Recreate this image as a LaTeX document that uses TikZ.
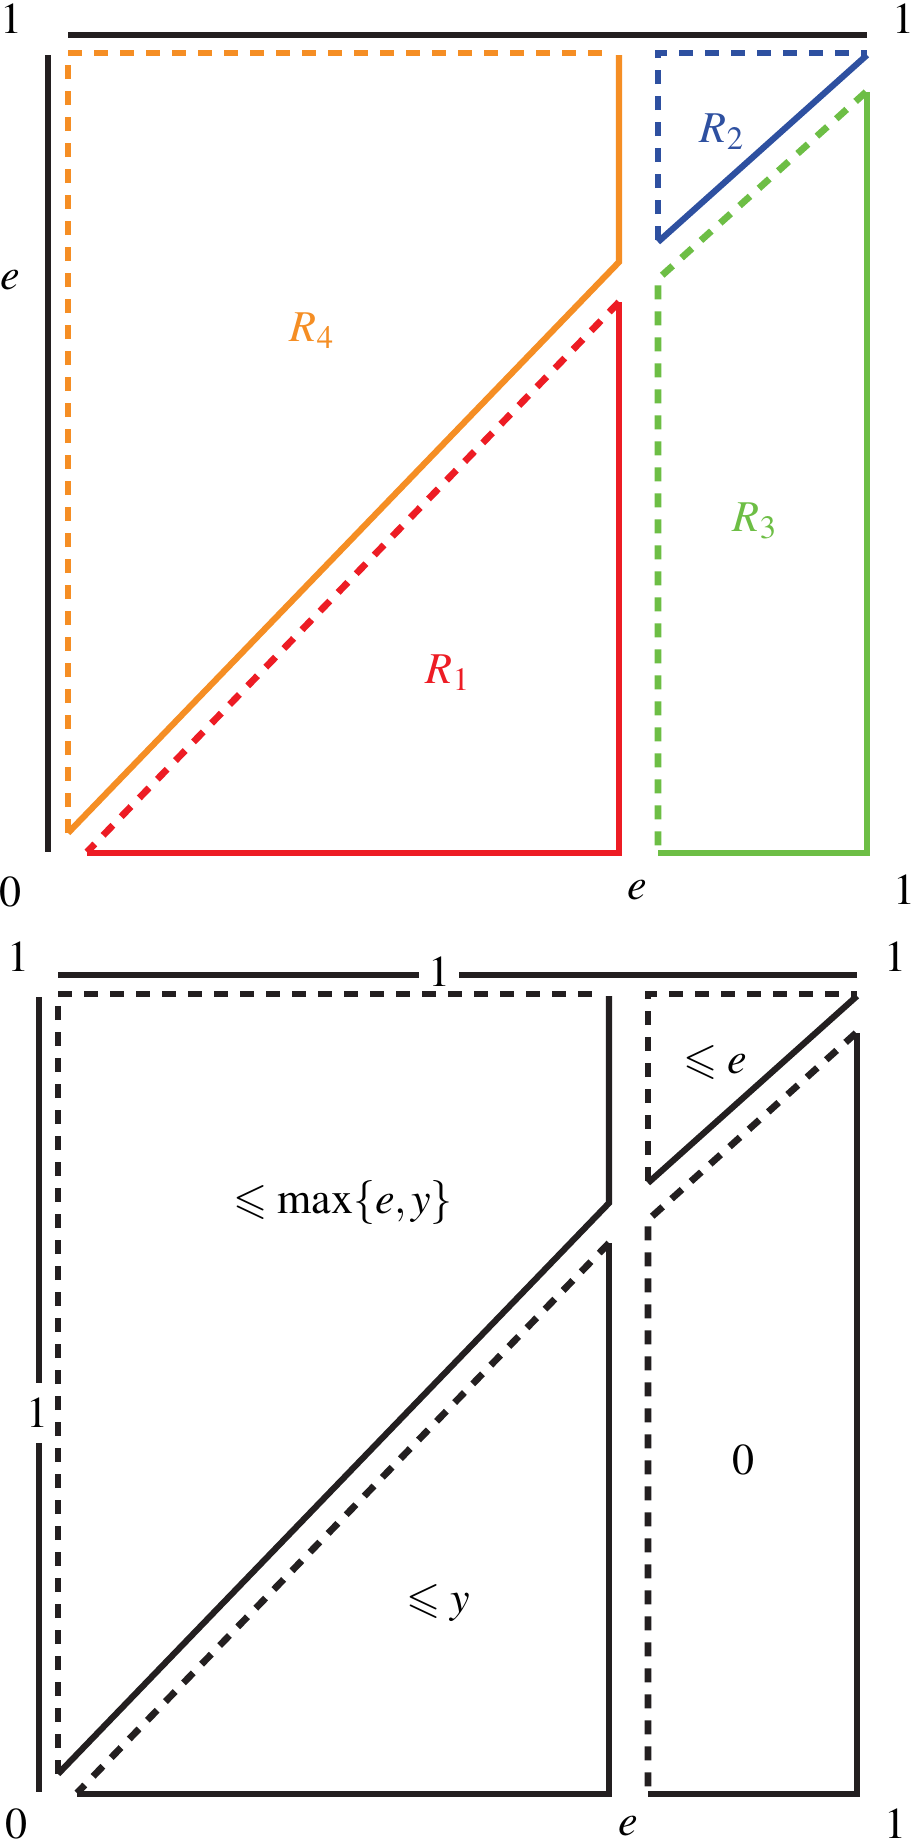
\documentclass[tikz,border=0pt]{standalone}
\usepackage{amssymb}
\usepackage{mathptmx}
\definecolor{corange}{RGB}{245,142,36}
\definecolor{cred}{RGB}{237,28,36}
\definecolor{cblue}{RGB}{46,80,160}
\definecolor{cgreen}{RGB}{109,190,69}
\definecolor{cblack}{RGB}{35,31,32}
\tikzset{
  edgeline/.style={line width=3.1pt},
  dshline/.style={line width=3.4pt, dash pattern=on 7pt off 6pt},
  axisline/.style={line width=3.4pt, cblack},
  lbl/.style={inner sep=0pt, font=\fontsize{22}{26}\selectfont},
}
\newcommand\mypanel[4]{%
  \draw[dshline,#1] (68,833)--(68,53)--(610,53);
  \draw[edgeline,#1] (619,55)--(619,262)--(68,833);
  \draw[dshline,#2] (619,302)--(87,852);
  \draw[edgeline,#2] (87,853)--(619,853)--(619,302);
  \draw[dshline,#3] (658,240)--(658,53)--(867,53);
  \draw[edgeline,#3] (867,55)--(658,242);
  \draw[dshline,#4] (866,92)--(658,279)--(658,852);
  \draw[edgeline,#4] (658,853)--(867,853)--(867,92);
}
\begin{document}
\begin{tikzpicture}[x=0.5pt,y=-0.5pt]
\useasboundingbox[fill=white] (0,0) rectangle (912,1848);
% ---------- panel 1 ----------
\draw[axisline] (68,35)--(867,35);
\draw[axisline] (48,55)--(48,852);
\mypanel{corange}{cred}{cblue}{cgreen}
\node[lbl] (t1) at (12,19) {$1$};
\node[lbl] (t2) at (903,19) {$1$};
\node[lbl] (te) at (10,280) {$e$};
\node[lbl] (b0) at (10,892) {$0$};
\node[lbl] (be) at (637,890) {$e$};
\node[lbl] (b1) at (904,890) {$1$};
\node[lbl,text=corange] (r4) at (312,331) {$R_4$};
\node[lbl,text=cred] (r1) at (448,673) {$R_1$};
\node[lbl,text=cblue] (r2) at (722,132) {$R_2$};
\node[lbl,text=cgreen] (r3) at (755,521) {$R_3$};
% ---------- panel 2 ----------
\draw[axisline] (58,975)--(419,975);
\draw[axisline] (459,975)--(857,975);
\draw[axisline] (39,997)--(39,1383);
\draw[axisline] (39,1443)--(39,1792);
\begin{scope}[shift={(-10,941)}]
\mypanel{cblack}{cblack}{cblack}{cblack}
\end{scope}
\node[lbl] (u1) at (18,957) {$1$};
\node[lbl] (um) at (439,972) {$1$};
\node[lbl] (u2) at (895,957) {$1$};
\node[lbl] (ul) at (37,1413) {$1$};
\node[lbl] (v0) at (16,1824) {$0$};
\node[lbl] (ve) at (628,1826) {$e$};
\node[lbl] (v1) at (895,1824) {$1$};
\node[lbl] (q4) at (343,1203) {$\leqslant\max\{e,y\}$};
\node[lbl] (q2) at (715,1062) {$\leqslant e$};
\node[lbl] (q1) at (438,1603) {$\leqslant y$};
\node[lbl] (q3) at (743,1460) {$0$};
\end{tikzpicture}
\end{document}
